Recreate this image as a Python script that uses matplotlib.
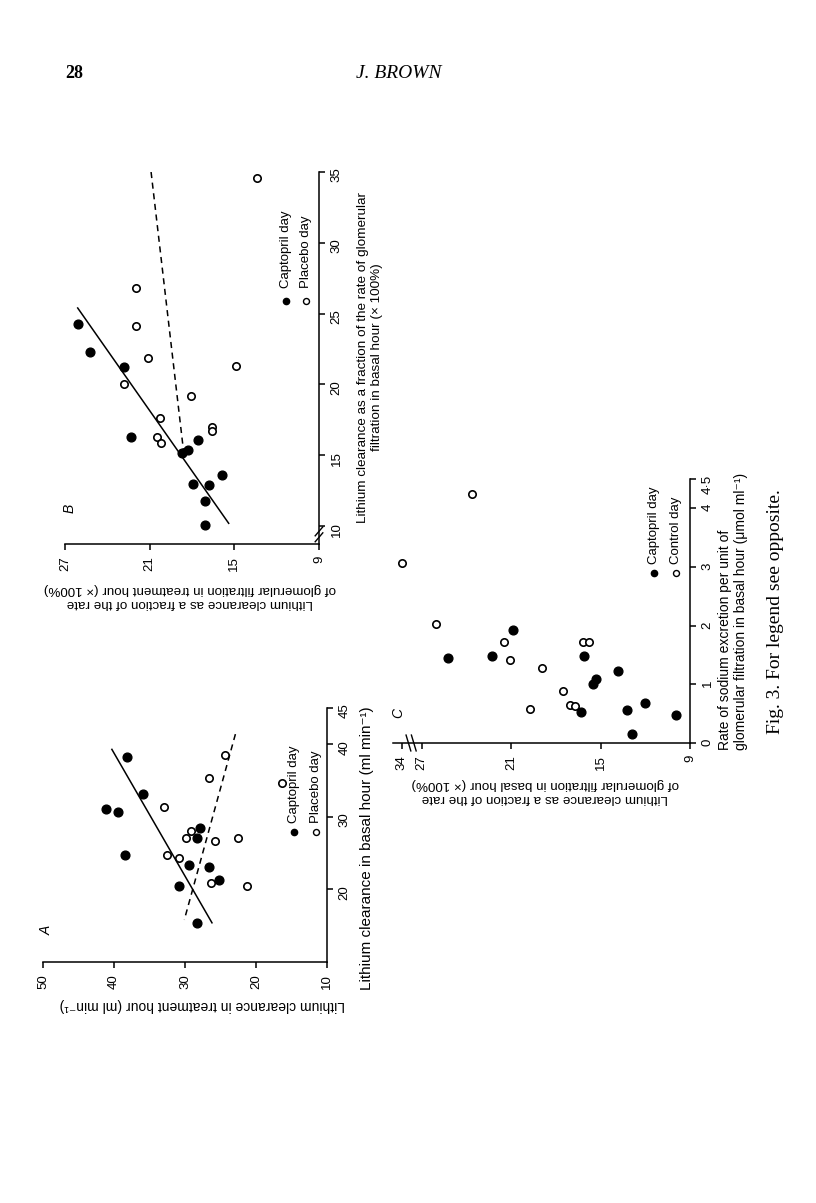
import numpy as np
import matplotlib.pyplot as plt

plt.rcParams['font.family'] = ['Liberation Sans', 'DejaVu Sans']

W, H = 816, 1203

# panel A: lithium clearance (ml/min), basal hour vs treatment hour
a_cap_basal = [38.3, 31.1, 30.7, 33.1, 24.7, 28.4, 27.1, 23.3, 23.1, 21.3, 20.5, 15.4]
a_cap_treat = [38.1, 41.1, 39.4, 35.9, 38.5, 27.9, 28.3, 29.5, 26.6, 25.2, 30.9, 28.3]
a_pla_basal = [38.5, 35.4, 34.6, 31.4, 27.1, 28.1, 26.7, 27.1, 24.7, 24.3, 20.9, 20.5]
a_pla_treat = [24.3, 26.6, 16.4, 33.0, 29.8, 29.1, 25.8, 22.6, 32.5, 30.8, 26.3, 21.2]
a_fit_cap_basal = [39.3, 15.4]
a_fit_cap_treat = [40.3, 26.2]
a_fit_pla_basal = [41.4, 15.8]
a_fit_pla_treat = [22.9, 30.1]

# panel B: lithium clearance as fraction of GFR (x100%)
b_cap_basal = [24.3, 22.3, 21.2, 16.3, 16.1, 15.35, 15.15, 13.0, 12.9, 13.6, 11.8, 10.1]
b_cap_treat = [26.1, 25.2, 22.8, 22.3, 17.6, 18.3, 18.7, 17.9, 16.8, 15.9, 17.1, 17.1]
b_pla_basal = [34.6, 26.8, 24.1, 21.9, 21.3, 20.0, 19.2, 17.6, 17.0, 16.75, 16.3, 15.9]
b_pla_treat = [13.4, 22.0, 21.95, 21.1, 14.9, 22.8, 18.1, 20.3, 16.6, 16.6, 20.5, 20.2]
b_fit_cap_basal = [25.4, 10.2]
b_fit_cap_treat = [26.1, 15.4]
b_fit_pla_basal = [35.0, 15.3]
b_fit_pla_treat = [20.9, 18.6]

# panel C: sodium excretion per unit GFR vs lithium clearance fraction
c_cap_na = [1.45, 1.49, 1.92, 1.49, 1.09, 1.00, 1.22, 0.52, 0.56, 0.69, 0.48, 0.16]
c_cap_li = [25.2, 22.3, 20.9, 16.1, 15.3, 15.5, 13.8, 16.3, 13.2, 12.0, 9.95, 12.9]
c_ctl_na = [3.06, 4.24, 2.02, 1.73, 1.41, 1.27, 0.88, 0.585, 0.65, 0.63, 1.73, 1.73]
c_ctl_li = [34.0, 23.65, 26.05, 21.45, 21.1, 18.9, 17.55, 19.7, 17.05, 16.7, 16.15, 15.75]


def px(x, y):
    return x / W, 1 - y / H


def make_axes(l, r, t, b):
    ax = fig.add_axes([l / W, 1 - b / H, (r - l) / W, (b - t) / H])
    ax.patch.set_alpha(0)
    for s in ['top', 'left']:
        ax.spines[s].set_visible(False)
    for s in ['right', 'bottom']:
        ax.spines[s].set_linewidth(1.1)
    ax.yaxis.tick_right()
    ax.tick_params(direction='out', length=4.5, width=1.1, labelsize=9.5, pad=4)
    ax.tick_params(axis='x', labelrotation=90)
    ax.tick_params(axis='y', labelrotation=90)
    return ax


def points(ax, xf, yf, xo, yo):
    ax.plot(xf, yf, 'o', ms=6.3, color='black', mec='black', clip_on=False)
    ax.plot(xo, yo, 'o', ms=5.3, mfc='white', mec='black', mew=1.2, clip_on=False)


def legend(ax, x, y, lab1, lab2, dx):
    ax.plot([x], [y], 'o', ms=4.5, color='black', transform=ax.transAxes, clip_on=False)
    ax.plot([x + dx], [y], 'o', ms=4.3, mfc='white', mec='black', mew=1.0,
            transform=ax.transAxes, clip_on=False)
    ax.text(x, y + 0.035, lab1, rotation=90, ha='center', va='bottom',
            fontsize=9.5, transform=ax.transAxes)
    ax.text(x + dx, y + 0.035, lab2, rotation=90, ha='center', va='bottom',
            fontsize=9.5, transform=ax.transAxes)


fig = plt.figure(figsize=(W / 100, H / 100), dpi=100)

# header
fig.text(*px(74, 73), '28', family='Liberation Serif', weight='bold',
         fontsize=13, ha='center', va='center')
fig.text(*px(399, 73), 'J. BROWN', family='Liberation Serif', style='italic',
         fontsize=14, ha='center', va='center')

# ---- panel A
ax = make_axes(43, 327, 708, 962)
points(ax, a_cap_treat, a_cap_basal, a_pla_treat, a_pla_basal)
ax.plot(a_fit_cap_treat, a_fit_cap_basal, color='black', lw=1.1)
ax.plot(a_fit_pla_treat, a_fit_pla_basal, color='black', lw=1.1, ls=(0, (4, 3)))
ax.set_xlim(50, 10)
ax.set_ylim(10, 45)
ax.set_xticks([50, 40, 30, 20, 10])
ax.set_yticks([20, 30, 40, 45])
legend(ax, 0.884, 0.512, 'Captopril day', 'Placebo day', 0.077)
fig.text(*px(47, 930), 'A', style='italic', fontsize=10, rotation=90, ha='center', va='center')
fig.text(*px(367, 848), 'Lithium clearance in basal hour (ml min⁻¹)',
         rotation=90, fontsize=11, ha='center', va='center')
fig.text(*px(202, 1005), 'Lithium clearance in treatment hour (ml min⁻¹)',
         rotation=180, fontsize=10, ha='center', va='center')

# ---- panel B
ax = make_axes(65, 319, 172, 544)
points(ax, b_cap_treat, b_cap_basal, b_pla_treat, b_pla_basal)
ax.plot(b_fit_cap_treat, b_fit_cap_basal, color='black', lw=1.1)
ax.plot(b_fit_pla_treat, b_fit_pla_basal, color='black', lw=1.1, ls=(0, (4, 3)))
ax.set_xlim(27, 9)
ax.set_ylim(8.74, 35)
ax.set_xticks([27, 21, 15, 9])
ax.set_yticks([10, 15, 20, 25, 30, 35])
for dy in (0.018, 0.034):
    ax.plot([0.985, 1.015], [dy - 0.012, dy + 0.012], color='black', lw=1.0,
            transform=ax.transAxes, clip_on=False)
legend(ax, 0.869, 0.652, 'Captopril day', 'Placebo day', 0.079)
fig.text(*px(70, 508), 'B', style='italic', fontsize=10, rotation=90, ha='center', va='center')
fig.text(*px(370, 357),
         'Lithium clearance as a fraction of the rate of glomerular\nfiltration in basal hour (× 100%)',
         rotation=90, fontsize=9.7, ha='center', va='center', multialignment='center',
         linespacing=1.25)
fig.text(*px(190, 596),
         'Lithium clearance as a fraction of the rate\nof glomerular filtration in treatment hour (× 100%)',
         rotation=180, fontsize=9.6, ha='center', va='center', multialignment='center',
         linespacing=1.25)

# ---- panel C (broken horizontal axis above 27)
k = 0.129


def fwd(v):
    v = np.asarray(v, dtype=float)
    return np.where(v <= 27.5, v, 27.5 + (v - 27.5) * k)


def inv(v):
    v = np.asarray(v, dtype=float)
    return np.where(v <= 27.5, v, 27.5 + (v - 27.5) / k)


ax = make_axes(393, 690, 479, 743)
ax.set_xscale('function', functions=(fwd, inv))
points(ax, c_cap_li, c_cap_na, c_ctl_li, c_ctl_na)
ax.set_xlim(38.5, 9)
ax.set_ylim(0, 4.5)
ax.set_xticks([34, 27, 21, 15, 9])
ax.set_xticklabels(['34', '27', '21', '15', '9'])
ax.set_yticks([0, 1, 2, 3, 4, 4.5])
ax.set_yticklabels(['0', '1', '2', '3', '4', '4·5'])
for dx in (0.052, 0.070):
    ax.plot([dx - 0.008, dx + 0.008], [0.03, -0.03], color='black', lw=1.0,
            transform=ax.transAxes, clip_on=False)
legend(ax, 0.879, 0.644, 'Captopril day', 'Control day', 0.074)
fig.text(*px(398, 713), 'C', style='italic', fontsize=10, rotation=90, ha='center', va='center')
fig.text(*px(733, 750),
         'Rate of sodium excretion per unit of\nglomerular filtration in basal hour (μmol ml⁻¹)',
         rotation=90, fontsize=10, ha='center', va='bottom', multialignment='left',
         linespacing=1.25)
fig.text(*px(545, 791),
         'Lithium clearance as a fraction of the rate\nof glomerular filtration in basal hour (× 100%)',
         rotation=180, fontsize=9.6, ha='center', va='center', multialignment='center',
         linespacing=1.25)
fig.text(*px(775, 612), 'Fig. 3. For legend see opposite.', family='Liberation Serif',
         rotation=90, fontsize=14, ha='center', va='center')

fig.savefig('out.png', dpi=100)
